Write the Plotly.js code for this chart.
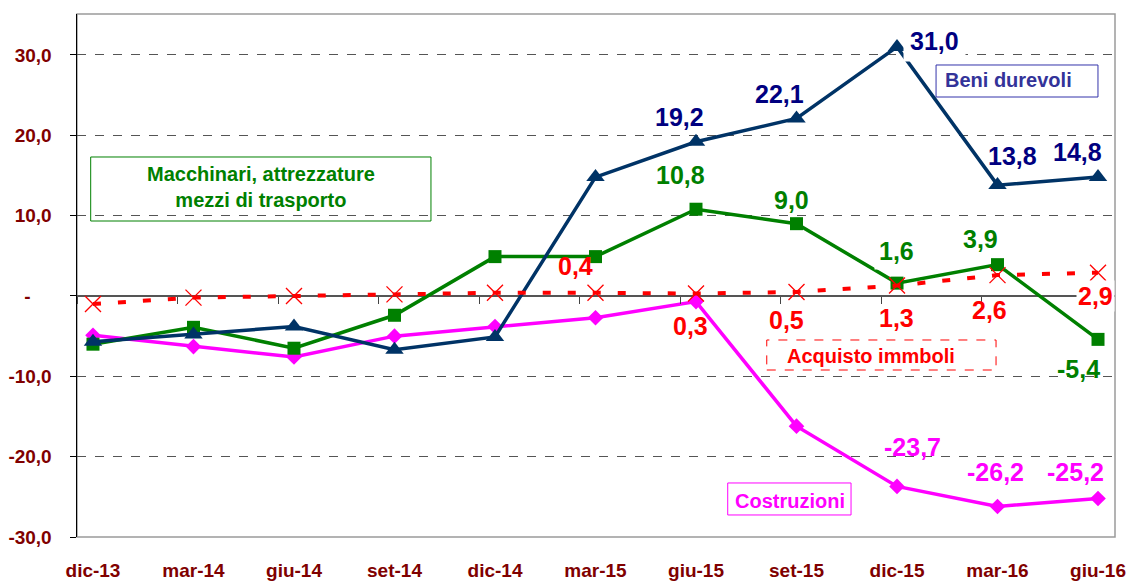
<!DOCTYPE html>
<html>
<head>
<meta charset="utf-8">
<script src="https://cdn.plot.ly/plotly-3.0.1.min.js"></script>
<style>html,body{margin:0;padding:0;background:#fff;}#chart{width:1131px;height:581px;}</style>
</head>
<body>
<div id="chart"></div>
<script>
// ---- data ----
const categories = ['dic-13','mar-14','giu-14','set-14','dic-14','mar-15','giu-15','set-15','dic-15','mar-16','giu-16'];
const beniDurevoli     = [-5.7, -4.8, -3.8, -6.7, -5.1, 14.8, 19.2, 22.1, 31.0, 13.8, 14.8];
const macchinari       = [-6.0, -3.9, -6.5, -2.4,  4.9,  4.9, 10.8,  9.0,  1.6,  3.9, -5.4];
const acquistoImmobili = [-1.0, -0.2,  0.0,  0.2,  0.4,  0.4,  0.3,  0.5,  1.3,  2.6,  2.9];
const costruzioni      = [-4.9, -6.3, -7.6, -5.0, -3.8, -2.7, -0.7,-16.2,-23.7,-26.2,-25.2];
const yTickValues = [-30, -20, -10, 0, 10, 20, 30];
const seriesNames = ['Beni durevoli', 'Macchinari, attrezzature<br>mezzi di trasporto', 'Acquisto immboli', 'Costruzioni'];

// ---- helpers ----
const xIdx = categories.map((c, i) => i);
const fmt = v => v === 0 ? '-\u00a0\u00a0\u00a0\u00a0' : v.toFixed(1).replace('.', ',');
const FONT = 'Liberation Sans, Arial, sans-serif';

const traces = [
  {name: seriesNames[3], x: xIdx, y: costruzioni, mode: 'lines+markers',
   line: {color: '#FF00FF', width: 3.5}, marker: {symbol: 'diamond', size: 12, color: '#FF00FF'}},
  {name: seriesNames[1], x: xIdx, y: macchinari, mode: 'lines+markers',
   line: {color: '#008000', width: 3.5}, marker: {symbol: 'square', size: 13, color: '#008000'}},
  {name: seriesNames[0], x: xIdx, y: beniDurevoli, mode: 'lines+markers',
   line: {color: '#003366', width: 3.5}, marker: {symbol: 'triangle-up', size: 16, color: '#003366'}},
  {name: seriesNames[2], x: xIdx, y: acquistoImmobili, mode: 'lines+markers',
   line: {color: '#FF0000', width: 4, dash: '8px,17px'},
   marker: {symbol: 'x-thin-open', size: 16, color: '#FF0000', line: {color: '#FF0000', width: 1.3}}},
  // helper trace for tick marks on the zero line
  {x: xIdx, y: xIdx.map(() => null), xaxis: 'x2', yaxis: 'y', mode: 'lines', showlegend: false, hoverinfo: 'skip'}
];

// data labels: [index, xshift, yshift, white background pad (0 = none)]
const labelSpec = [
  {data: beniDurevoli, color: '#000080', pts: [[6,-17,25,0],[7,-17,24,0],[8,37,6,6],[9,15,29,0],[10,-21,25,0]]},
  {data: macchinari, color: '#008000', pts: [[6,-16,34,0],[7,-5,24,0],[8,-1,32,4],[9,-17,26,0],[10,-20,-30,0]]},
  {data: acquistoImmobili, color: '#FF0000', pts: [[5,-20,27,0],[6,-6,-32,0],[7,-10,-28,0],[8,-1,-32,0],[9,-8,-35,0],[10,-3,-23,1]]},
  {data: costruzioni, color: '#FF00FF', pts: [[8,15,39,0],[9,-2,34,0],[10,-23,26,0]]}
];
const annotations = [];
labelSpec.forEach(s => s.pts.forEach(p => {
  annotations.push({x: p[0], y: s.data[p[0]], xref: 'x', yref: 'y', showarrow: false,
    xanchor: 'center', yanchor: 'middle',
    text: s.data[p[0]].toFixed(1).replace('.', ','), xshift: p[1], yshift: p[2],
    bgcolor: p[3] ? '#ffffff' : 'rgba(0,0,0,0)', borderpad: p[3] || 0,
    font: {family: FONT, size: 25, color: s.color, weight: 700}});
}));

// series name boxes (text)
const boxText = (x, y, text, color) => ({xref: 'paper', yref: 'paper', x: x, y: y, showarrow: false,
  xanchor: 'center', yanchor: 'middle', text: text, font: {family: FONT, size: 20, color: color, weight: 700}});
annotations.push(
  boxText(0.1772, 0.6692, seriesNames[1], '#008000'),
  boxText(0.8974, 0.8738, seriesNames[0], '#333399'),
  boxText(0.7645, 0.3461, seriesNames[2], '#FF0000'),
  boxText(0.6869, 0.0694, seriesNames[3], '#FF00FF')
);

const shapes = [
  {type: 'rect', xref: 'paper', yref: 'paper', x0: 0, x1: 1, y0: 0, y1: 1, layer: 'below',
   line: {color: '#9a9a9a', width: 1.5}},
  {type: 'rect', xref: 'paper', yref: 'paper', x0: 0.0132, x1: 0.341, y0: 0.6042, y1: 0.7266,
   line: {color: '#008000', width: 1}, fillcolor: '#ffffff', layer: 'below'},
  {type: 'rect', xref: 'paper', yref: 'paper', x0: 0.8276, x1: 0.9836, y0: 0.8413, y1: 0.9025,
   line: {color: '#3333AA', width: 1}, fillcolor: '#ffffff', layer: 'below'},
  {type: 'rect', xref: 'paper', yref: 'paper', x0: 0.6645, x1: 0.8854, y0: 0.3193, y1: 0.3767,
   line: {color: '#FF0000', width: 1, dash: 'dash'}, fillcolor: '#ffffff', layer: 'below'},
  {type: 'rect', xref: 'paper', yref: 'paper', x0: 0.6269, x1: 0.7457, y0: 0.0421, y1: 0.1033,
   line: {color: '#FF00FF', width: 1}, fillcolor: '#ffffff', layer: 'below'}
];

const xMin = -0.159, xMax = 10.169, yMin = -30, yMax = 35.1;
const layout = {
  width: 1131, height: 581,
  margin: {l: 77, r: 16, t: 14, b: 44, pad: 0},
  paper_bgcolor: '#ffffff', plot_bgcolor: 'rgba(0,0,0,0)',
  showlegend: false,
  font: {family: FONT},
  xaxis: {range: [xMin, xMax], tickmode: 'array', tickvals: xIdx, ticktext: categories,
    ticks: 'outside', ticklen: 16, tickcolor: 'rgba(0,0,0,0)', showgrid: false, zeroline: false,
    showline: false, tickfont: {family: FONT, size: 19, color: '#800000', weight: 700}},
  xaxis2: {overlaying: 'x', matches: 'x', anchor: 'free', position: (0 - yMin) / (yMax - yMin),
    side: 'bottom', tickmode: 'array', tickvals: xIdx.map(i => i + xMin), showticklabels: false,
    ticks: 'outside', ticklen: 7, tickcolor: '#444', tickwidth: 1, showgrid: false, zeroline: false, showline: false},
  yaxis: {range: [yMin, yMax], tickmode: 'array', tickvals: yTickValues, ticktext: yTickValues.map(fmt),
    ticks: 'outside', ticklen: 6, tickcolor: '#000', showline: true, linecolor: '#000', linewidth: 1.5,
    showgrid: true, gridcolor: '#555', griddash: 'dash', gridwidth: 1,
    zeroline: true, zerolinecolor: '#555', zerolinewidth: 1.5, ticklabelstandoff: 14,
    tickfont: {family: FONT, size: 19, color: '#800000', weight: 700}},
  shapes: shapes,
  annotations: annotations
};

Plotly.newPlot('chart', traces, layout, {staticPlot: true, displayModeBar: false});
</script>
</body>
</html>
